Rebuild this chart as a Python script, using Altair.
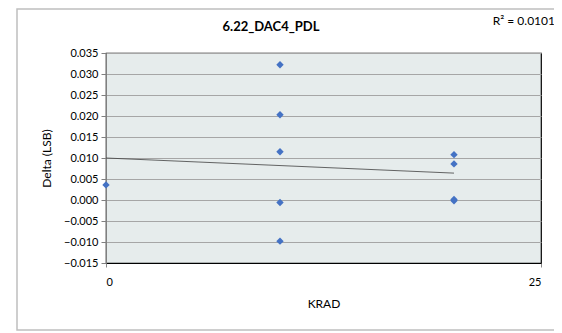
import altair as alt
import pandas as pd

title_text = ["6.22_DAC4_PDL"]
krad = [0, 10, 10, 10, 10, 10, 20, 20, 20, 20]
delta = [0.0036, 0.0322, 0.0203, 0.0115, -0.0006, -0.0098, 0.0108, 0.0086, -0.0002, 0.0001]
trend_x = [0, 20]
trend_y = [0.0100, 0.0064]
r2 = [0.0101]
y_ticks = [-0.015, -0.010, -0.005, 0.0, 0.005, 0.010, 0.015, 0.020, 0.025, 0.030, 0.035]
x_ticks = [0, 25]

pts = pd.DataFrame({"KRAD": krad, "Delta": delta})
tr = pd.DataFrame({"KRAD": trend_x, "Delta": trend_y})
r2df = pd.DataFrame({"r2": r2})
tdf = pd.DataFrame({"t": title_text})

FONT = "Lato"
xs = alt.Scale(domain=[0, 25], nice=False)
ys = alt.Scale(domain=[-0.015, 0.035], nice=False)

xax = alt.Axis(values=x_ticks, title="KRAD", grid=False, labelFontSize=11, titleFontSize=12,
               titleFontWeight="normal", labelPadding=9, titlePadding=11, tickSize=4,
               domainColor="#000000", tickColor="#888888", labelColor="#000000", titleColor="#000000",
               labelFont=FONT, titleFont=FONT, labelOverlap=False)
yax = alt.Axis(values=y_ticks, format=".3f", title="Delta (LSB)", labelFontSize=11, titleFontSize=12,
               titleFontWeight="normal", grid=True, gridColor="#A6A6A6", gridWidth=1, tickSize=5,
               domainColor="#808080", tickColor="#808080", labelColor="#000000", titleColor="#000000",
               labelFont=FONT, titleFont=FONT, titlePadding=10, labelPadding=3, labelOverlap=False)

frame = alt.Chart(r2df).mark_rect(fill="transparent", stroke="#BFBFBF", strokeWidth=1.5, clip=False).encode(
    x=alt.value(-89), x2=alt.value(470), y=alt.value(-44), y2=alt.value(277)
)

points = alt.Chart(pts).mark_point(shape="diamond", filled=True, color="#4472C4", size=55, opacity=1).encode(
    x=alt.X("KRAD:Q", scale=xs, axis=xax),
    y=alt.Y("Delta:Q", scale=ys, axis=yax),
)

trend = alt.Chart(tr).mark_line(color="#404040", strokeWidth=0.8).encode(
    x=alt.X("KRAD:Q", scale=xs, axis=xax),
    y=alt.Y("Delta:Q", scale=ys, axis=yax),
)

r2text = alt.Chart(r2df).transform_calculate(label="'R² = ' + format(datum.r2, '.4f')").mark_text(
    align="right", baseline="alphabetic", fontSize=12, font=FONT, color="#000000", clip=False
).encode(text="label:N", x=alt.value(449), y=alt.value(-28))

titletext = alt.Chart(tdf).mark_text(
    align="center", baseline="alphabetic", fontSize=13, fontWeight="bold", font=FONT, color="#000000", clip=False
).encode(text="t:N", x=alt.value(165), y=alt.value(-22))

chart = alt.layer(frame, trend, points, r2text, titletext).properties(
    width=435, height=210,
    background="#FFFFFF",
    autosize=alt.AutoSizeParams(type="none"),
    padding={"left": 98, "top": 45, "right": 13, "bottom": 80},
).configure_view(
    fill="#E6ECEC", stroke="#000000", strokeWidth=1.2
)

chart.save("out.html", embed_options={"renderer": "svg", "actions": False})
